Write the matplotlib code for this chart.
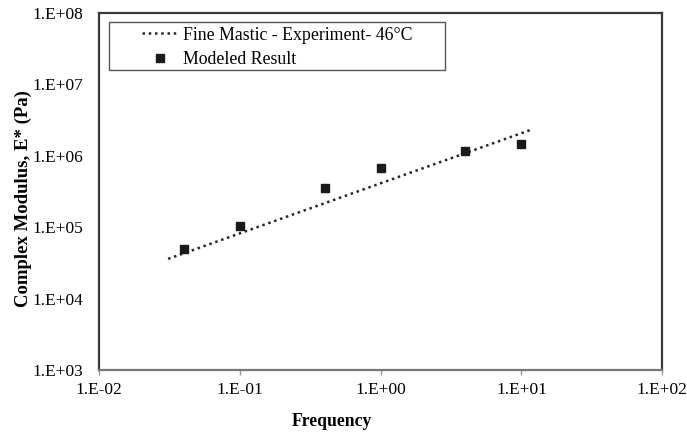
import matplotlib
matplotlib.use("Agg")
import matplotlib.pyplot as plt
import matplotlib.patches as patches

# experiment (dotted power-law line)
exp_freq = [0.031, 11.6]
exp_modulus = [3.6e4, 2.3e6]

# modeled result points
model_freq = [0.04, 0.1, 0.4, 1.0, 4.0, 10.0]
model_modulus = [4.9e4, 1.03e5, 3.5e5, 6.7e5, 1.16e6, 1.45e6]

x_ticks = [1e-2, 1e-1, 1e0, 1e1, 1e2]
x_tick_labels = ["1.E-02", "1.E-01", "1.E+00", "1.E+01", "1.E+02"]
y_ticks = [1e3, 1e4, 1e5, 1e6, 1e7, 1e8]
y_tick_labels = ["1.E+03", "1.E+04", "1.E+05", "1.E+06", "1.E+07", "1.E+08"]

plt.rcParams['font.family'] = ['Liberation Serif', 'DejaVu Serif']

fig = plt.figure(figsize=(6.87, 4.33), dpi=100)
ax = fig.add_axes([0.144, 0.1455, 0.820, 0.8245])

ax.plot(exp_freq, exp_modulus, linestyle=(0, (1, 1.5)), linewidth=1.8,
        color='#262626', label='Fine Mastic - Experiment- 46°C')
ax.plot(model_freq, model_modulus, linestyle='none', marker='s', markersize=6,
        color='#1a1a1a', label='Modeled Result')

ax.set_xscale('log')
ax.set_yscale('log')
ax.set_xlim(1e-2, 1e2)
ax.set_ylim(1e3, 1e8)
ax.set_xticks(x_ticks)
ax.set_xticklabels(x_tick_labels)
ax.set_yticks(y_ticks)
ax.set_yticklabels(y_tick_labels)
ax.minorticks_off()
ax.tick_params(axis='x', labelsize=12.5, length=3.5, color='#999999', width=1, pad=5)
ax.tick_params(axis='y', labelsize=12.5, length=0, pad=11.5)

for side in ['left', 'right', 'top', 'bottom']:
    ax.spines[side].set_linewidth(1.6)
    ax.spines[side].set_color('#3a3a3a')
ax.spines['bottom'].set_color('#777777')

ax.set_xlabel('Frequency', fontsize=12.7, fontweight='bold')
ax.set_ylabel('Complex Modulus, E* (Pa)', fontsize=13.5, fontweight='bold')
ax.xaxis.set_label_coords(0.414, -0.12)
ax.yaxis.set_label_coords(-0.118, 0.48)

# legend frame drawn separately so the padding matches the reference
frame = patches.Rectangle((0.0178, 0.84), 0.597, 0.135, transform=ax.transAxes,
                          fill=False, edgecolor='#555555', linewidth=1.0, zorder=4)
ax.add_patch(frame)
leg = ax.legend(loc='upper left', bbox_to_anchor=(0.0764, 0.962), fontsize=12.8,
                frameon=False, handlelength=2.0, handletextpad=0.3,
                borderpad=0, borderaxespad=0, labelspacing=0.42)

fig.savefig('out.png', dpi=100)
